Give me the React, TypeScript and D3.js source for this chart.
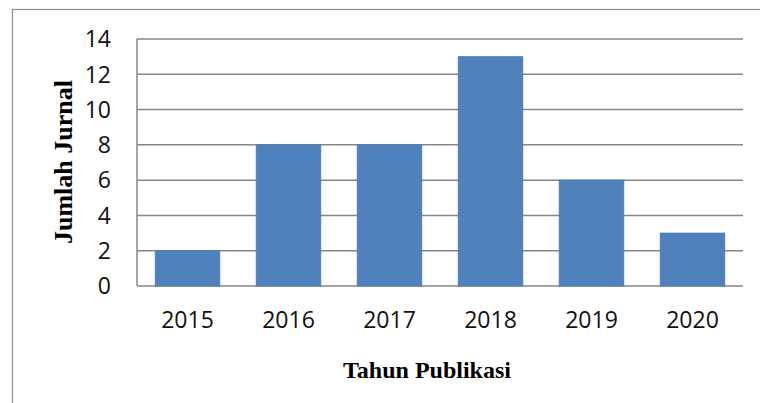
import React, { useEffect, useRef } from "react";
import * as d3 from "d3";

const years = ["2015", "2016", "2017", "2018", "2019", "2020"];
const counts = [2, 8, 8, 13, 6, 3];
const yTicks = [0, 2, 4, 6, 8, 10, 12, 14];

export default function App() {
  const ref = useRef<SVGSVGElement>(null);

  useEffect(() => {
    const width = 760;
    const height = 403;
    const margin = { top: 39, right: 17, bottom: 117, left: 137 };
    const innerWidth = width - margin.left - margin.right;
    const innerHeight = height - margin.top - margin.bottom;

    const svg = d3.select(ref.current!);
    svg.selectAll("*").remove();

    // outer frame (runs off the right and bottom edges)
    svg.append("rect")
      .attr("x", 12.5).attr("y", 9.5)
      .attr("width", 800).attr("height", 450)
      .attr("fill", "white")
      .attr("stroke", "#8c8c8c").attr("stroke-width", 1.2);

    const g = svg.append("g").attr("transform", `translate(${margin.left}, ${margin.top})`);

    const x = d3.scaleBand().domain(years).range([0, innerWidth]).paddingInner(0.36).paddingOuter(0.18);
    const y = d3.scaleLinear().domain([0, 14]).range([innerHeight, 0]);

    // gridlines
    g.selectAll(".grid")
      .data(yTicks)
      .join("line")
      .attr("x1", 0).attr("x2", innerWidth)
      .attr("y1", d => y(d)).attr("y2", d => y(d))
      .attr("stroke", "#868686").attr("stroke-width", 1.5);

    // left axis line
    g.append("line")
      .attr("x1", 0).attr("x2", 0).attr("y1", 0).attr("y2", innerHeight)
      .attr("stroke", "#868686").attr("stroke-width", 1.5);

    g.selectAll(".bar")
      .data(counts)
      .join("rect")
      .attr("x", (d, i) => x(years[i])!)
      .attr("y", d => y(d))
      .attr("width", x.bandwidth())
      .attr("height", d => innerHeight - y(d))
      .attr("fill", "#4F81BD")
      .attr("stroke", "#4a7ab3").attr("stroke-width", 0.8);

    // y tick labels
    g.selectAll(".ytick")
      .data(yTicks)
      .join("text")
      .attr("x", -26)
      .attr("y", d => y(d))
      .attr("dy", "0.36em")
      .attr("text-anchor", "end")
      .attr("font-family", "'Open Sans', sans-serif")
      .attr("font-size", 23)
      .attr("fill", "#111")
      .text(d => d);

    // x tick labels
    g.selectAll(".xtick")
      .data(years)
      .join("text")
      .attr("x", d => x(d)! + x.bandwidth() / 2)
      .attr("y", innerHeight + 42)
      .attr("text-anchor", "middle")
      .attr("font-family", "'Open Sans', sans-serif")
      .attr("font-size", 23)
      .attr("fill", "#111")
      .text(d => d);

    // axis titles
    svg.append("text")
      .attr("x", 427)
      .attr("y", 378)
      .attr("text-anchor", "middle")
      .attr("font-family", "'Liberation Serif', serif")
      .attr("font-weight", "bold")
      .attr("font-size", 24)
      .text("Tahun Publikasi");

    svg.append("text")
      .attr("transform", `translate(72, 162) rotate(-90)`)
      .attr("text-anchor", "middle")
      .attr("font-family", "'Liberation Serif', serif")
      .attr("font-weight", "bold")
      .attr("font-size", 26)
      .text("Jumlah Jurnal");
  }, []);

  return (
    <svg ref={ref} width={760} height={403} style={{ position: "absolute", left: 0, top: 0 }} />
  );
}
